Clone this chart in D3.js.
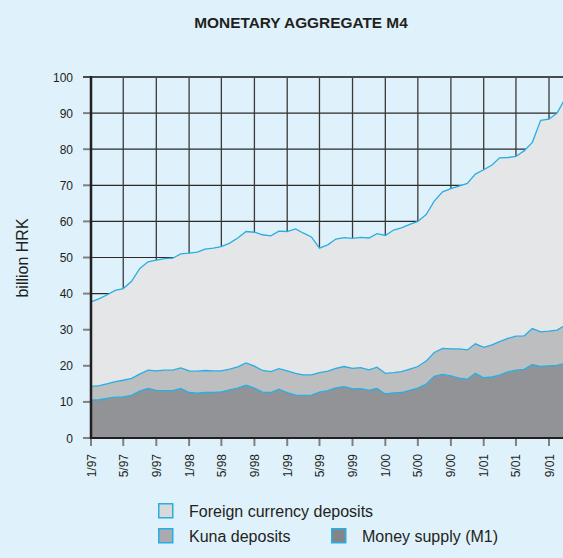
<!DOCTYPE html>
<html>
<head>
<meta charset="utf-8">
<script src="https://cdn.jsdelivr.net/npm/d3@7"></script>
<style>
body { margin: 0; background: #dff1fb; }
svg { display: block; font-family: "Liberation Sans", Arial, sans-serif; }
</style>
</head>
<body>
<div class="container"></div>
<script>
// monthly data, 1/97 .. 11/01, billion HRK
const firstMonth = '1/97';
const moneySupply = [10.5, 10.6, 11.0, 11.3, 11.4, 11.8, 13.0, 13.7, 13.2, 13.1, 13.1, 13.7,
    12.6, 12.4, 12.6, 12.6, 12.8, 13.3, 13.8, 14.6, 13.8, 12.7, 12.6, 13.5,
    12.6, 11.9, 11.8, 11.9, 12.7, 13.1, 13.9, 14.2, 13.6, 13.7, 13.2, 13.7,
    12.2, 12.5, 12.6, 13.2, 13.8, 14.9, 17.1, 17.6, 17.2, 16.6, 16.3, 17.9,
    16.7, 16.9, 17.4, 18.3, 18.8, 19.0, 20.4, 19.8, 20.0, 20.1, 20.7];
const kunaDeposits = [3.8, 3.9, 4.0, 4.3, 4.6, 4.7, 4.7, 5.1, 5.4, 5.7, 5.7, 5.7,
    6.0, 6.1, 6.1, 6.0, 5.8, 5.8, 5.9, 6.2, 6.1, 6.0, 5.8, 5.7,
    6.0, 6.0, 5.7, 5.6, 5.4, 5.4, 5.4, 5.6, 5.7, 5.8, 5.7, 5.9,
    5.7, 5.6, 5.8, 5.9, 6.0, 6.4, 6.6, 7.2, 7.5, 8.1, 8.1, 8.2,
    8.4, 8.9, 9.3, 9.3, 9.4, 9.3, 9.9, 9.6, 9.6, 9.8, 10.6];
const foreignDeposits = [23.4, 24.1, 24.6, 25.3, 25.4, 26.9, 29.2, 30.0, 30.7, 30.9, 31.0, 31.6,
    32.6, 33.0, 33.6, 34.0, 34.4, 34.9, 35.7, 36.4, 37.1, 37.6, 37.6, 38.1,
    38.6, 40.0, 39.3, 38.2, 34.5, 35.0, 35.8, 35.7, 36.0, 36.1, 36.5, 37.0,
    38.2, 39.5, 39.8, 40.1, 40.2, 40.6, 41.9, 43.4, 44.4, 45.1, 46.1, 47.0,
    49.2, 49.8, 50.9, 50.1, 49.8, 51.3, 51.6, 58.6, 58.7, 60.1, 62.9];

const xTickLabels = ['1/97', '5/97', '9/97', '1/98', '5/98', '9/98', '1/99', '5/99', '9/99',
    '1/00', '5/00', '9/00', '1/01', '5/01', '9/01'];
const yTicks = [0, 10, 20, 30, 40, 50, 60, 70, 80, 90, 100];

const seriesNames = ['Money supply (M1)', 'Kuna deposits', 'Foreign currency deposits'];
const keys = ['m1', 'kuna', 'foreign'];

const width = 563;
const height = 558;
const margin = { top: 77, left: 91, bottom: 120 };

const parseMonth = d3.timeParse('%m/%y');
const start = parseMonth(firstMonth);

const rows = moneySupply.map((v, i) => ({
    date: d3.timeMonth.offset(start, i),
    m1: v,
    kuna: kunaDeposits[i],
    foreign: foreignDeposits[i]
}));

const stacked = d3.stack().keys(keys)(rows);

const x = d3.scaleTime()
    .domain([start, parseMonth('1/01')])
    .range([margin.left, 483.7]);

const y = d3.scaleLinear()
    .domain([0, 100])
    .range([height - margin.bottom, margin.top]);

const fills = { m1: '#929396', kuna: '#bdbec0', foreign: '#e5e6e8' };
const swatch = { m1: '#838487', kuna: '#a9abae', foreign: '#d8d9db' };
const lineColor = '#27aee4';
const ink = '#231f20';

const svg = d3.select('.container')
    .append('svg')
    .attr('width', width)
    .attr('height', height);

svg.append('rect')
    .attr('width', width)
    .attr('height', height)
    .attr('fill', '#dff1fb');

svg.append('text')
    .attr('x', 301)
    .attr('y', 28)
    .attr('text-anchor', 'middle')
    .style('font-weight', 'bold')
    .style('font-size', '15.4px')
    .attr('fill', ink)
    .text('MONETARY AGGREGATE M4');

const right = 600;
const tickDates = xTickLabels.map(parseMonth);

// grid
svg.append('g')
    .selectAll('line')
    .data(yTicks.slice(1, -1))
    .join('line')
    .attr('x1', margin.left)
    .attr('x2', right)
    .attr('y1', d => y(d))
    .attr('y2', d => y(d))
    .attr('stroke', '#2a2a2a')
    .attr('stroke-width', 1.2);

svg.append('g')
    .selectAll('line')
    .data(tickDates.slice(1))
    .join('line')
    .attr('x1', d => x(d))
    .attr('x2', d => x(d))
    .attr('y1', y(100))
    .attr('y2', y(0))
    .attr('stroke', '#3a3a3a')
    .attr('stroke-width', 1.3);

// areas
const area = d3.area()
    .x(d => x(d.data.date))
    .y0(d => y(d[0]))
    .y1(d => y(d[1]));

const line = d3.line()
    .x(d => x(d.data.date))
    .y(d => y(d[1]));

svg.append('g')
    .selectAll('path')
    .data(stacked)
    .join('path')
    .attr('d', area)
    .attr('fill', d => fills[d.key]);

svg.append('g')
    .selectAll('path')
    .data(stacked)
    .join('path')
    .attr('d', line)
    .attr('fill', 'none')
    .attr('stroke', lineColor)
    .attr('stroke-width', 1.3);

// axes
svg.append('g')
    .selectAll('line')
    .data(yTicks)
    .join('line')
    .attr('x1', margin.left - 8)
    .attr('x2', margin.left)
    .attr('y1', d => y(d))
    .attr('y2', d => y(d))
    .attr('stroke', '#808080')
    .attr('stroke-width', 2);

svg.append('g')
    .selectAll('text')
    .data(yTicks)
    .join('text')
    .attr('x', 73)
    .attr('y', d => y(d) + 4.5)
    .attr('text-anchor', 'end')
    .style('font-size', '12px')
    .attr('fill', ink)
    .text(d => d);

svg.append('g')
    .selectAll('line')
    .data(tickDates)
    .join('line')
    .attr('x1', d => x(d))
    .attr('x2', d => x(d))
    .attr('y1', y(0))
    .attr('y2', y(0) + 8)
    .attr('stroke', '#808080')
    .attr('stroke-width', 2);

svg.append('g')
    .selectAll('text')
    .data(xTickLabels)
    .join('text')
    .attr('transform', (d, i) => 'translate(' + (x(tickDates[i]) + 4.5) + ',' + 454 + ') rotate(-90)')
    .attr('text-anchor', 'end')
    .style('font-size', '12px')
    .attr('fill', ink)
    .text(d => d);

svg.append('line')
    .attr('x1', margin.left - 8)
    .attr('x2', right)
    .attr('y1', y(100))
    .attr('y2', y(100))
    .attr('stroke', '#4a4a4a')
    .attr('stroke-width', 2);

svg.append('line')
    .attr('x1', margin.left)
    .attr('x2', right)
    .attr('y1', y(0))
    .attr('y2', y(0))
    .attr('stroke', ink)
    .attr('stroke-width', 2);

svg.append('line')
    .attr('x1', margin.left)
    .attr('x2', margin.left)
    .attr('y1', y(100) - 1)
    .attr('y2', y(0) + 1)
    .attr('stroke', ink)
    .attr('stroke-width', 2.5);

svg.append('text')
    .attr('transform', 'translate(27.5,258) rotate(-90)')
    .attr('text-anchor', 'middle')
    .style('font-size', '16px')
    .attr('fill', ink)
    .text('billion HRK');

// legend
const legend = [
    { key: 'foreign', x: 158, y: 503 },
    { key: 'kuna', x: 158, y: 528 },
    { key: 'm1', x: 331, y: 528 }
];

const lg = svg.append('g')
    .selectAll('g')
    .data(legend)
    .join('g')
    .attr('transform', d => 'translate(' + d.x + ',' + d.y + ')');

lg.append('rect')
    .attr('x', 0.75)
    .attr('y', 0.75)
    .attr('width', 14)
    .attr('height', 14)
    .attr('fill', d => swatch[d.key])
    .attr('stroke', lineColor)
    .attr('stroke-width', 1.5);

lg.append('text')
    .attr('x', 31)
    .attr('y', 14)
    .style('font-size', '16px')
    .attr('fill', ink)
    .text(d => seriesNames[keys.indexOf(d.key)]);
</script>
</body>
</html>
